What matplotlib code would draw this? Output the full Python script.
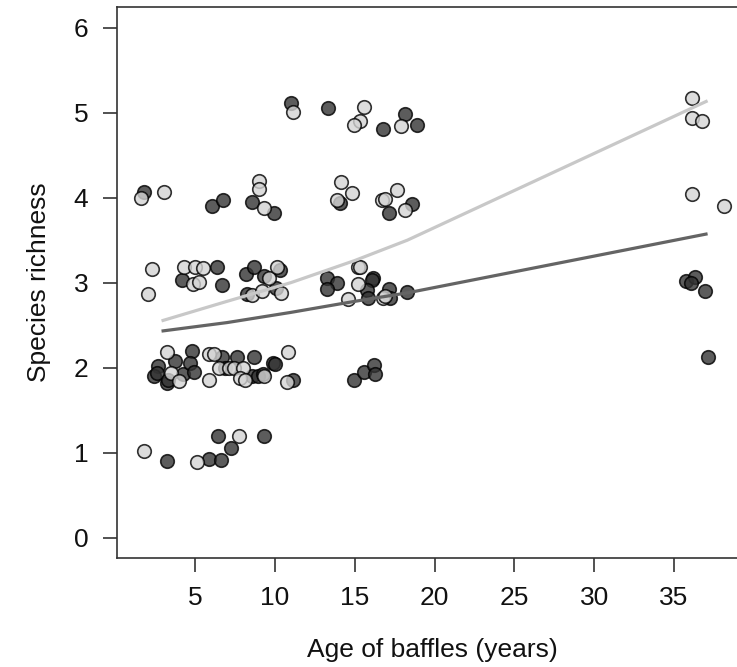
import matplotlib
matplotlib.use("Agg")
import matplotlib.pyplot as plt

plt.rcParams['font.family'] = ['Liberation Sans', 'DejaVu Sans']

# Observations: age of baffles (years) vs species richness, two groups
light_age = [1.6, 3.06, 8.98, 9.03, 9.3,
             2.28, 2.03, 4.31, 5.02, 5.48, 4.85, 5.27, 9.65, 10.11, 8.59, 9.17, 10.4,
             3.22, 3.47, 4.0, 5.89, 5.89, 6.19, 6.52, 7.14, 7.44, 7.98, 7.81, 8.13, 9.32, 10.84, 10.74,
             1.82, 5.14, 7.77,
             11.11, 15.58, 15.33, 14.97, 17.9,
             14.14, 14.81, 13.87, 16.73, 16.9, 17.63, 18.15,
             15.22, 15.33, 15.22, 14.6, 16.79, 16.9,
             36.1, 36.1, 36.76, 36.12, 38.12]
light_rich = [4.0, 4.07, 4.20, 4.10, 3.88,
              3.16, 2.87, 3.19, 3.19, 3.17, 2.98, 3.01, 3.05, 3.19, 2.85, 2.90, 2.88,
              2.18, 1.94, 1.84, 1.85, 2.16, 2.16, 1.99, 1.99, 1.99, 1.99, 1.88, 1.86, 1.90, 2.18, 1.83,
              1.02, 0.895, 1.19,
              5.01, 5.07, 4.90, 4.85, 4.84,
              4.18, 4.05, 3.97, 3.975, 3.98, 4.09, 3.85,
              3.18, 3.18, 2.98, 2.81, 2.82, 2.845,
              5.17, 4.94, 4.90, 4.04, 3.90]

dark_age = [1.78, 6.04, 6.77, 8.59, 9.94,
            4.16, 6.39, 6.69, 8.17, 8.69, 9.34, 10.32, 8.23, 10.05,
            4.83, 3.74, 2.66, 2.45, 2.6, 3.22, 3.33, 4.27, 4.68, 4.95, 6.71, 6.88, 7.63, 8.55, 8.71,
            8.96, 9.23, 9.9, 10.0, 11.11,
            3.22, 5.85, 6.6, 6.46, 7.25, 9.32,
            10.99, 13.3, 16.75, 18.15, 18.88,
            14.08, 17.17, 18.57,
            13.24, 13.87, 13.28, 16.12, 16.06, 15.79, 15.85, 17.17, 17.21, 18.29,
            14.95, 15.58, 16.2, 16.27,
            35.74, 36.3, 36.04, 36.93, 37.14]
dark_rich = [4.07, 3.90, 3.975, 3.95, 3.82,
             3.03, 3.18, 2.97, 3.10, 3.18, 3.08, 3.15, 2.87, 2.94,
             2.19, 2.08, 2.02, 1.90, 1.94, 1.82, 1.86, 1.92, 2.05, 1.95, 2.12, 1.99, 2.12, 1.90, 2.13,
             1.90, 1.92, 2.05, 2.04, 1.85,
             0.90, 0.93, 0.915, 1.19, 1.05, 1.19,
             5.11, 5.06, 4.81, 4.98, 4.85,
             3.94, 3.82, 3.92,
             3.06, 3.00, 2.92, 3.05, 3.03, 2.91, 2.82, 2.92, 2.82, 2.89,
             1.86, 1.95, 2.03, 1.93,
             3.02, 3.065, 2.99, 2.90, 2.12]

# Fitted trend for each group
fit_age = [2.9, 7.0, 11.0, 15.0, 18.3, 37.1]
fit_light = [2.55, 2.78, 3.0, 3.26, 3.5, 5.14]
fit_dark = [2.43, 2.53, 2.65, 2.78, 2.88, 3.575]

y_ticks = [0, 1, 2, 3, 4, 5, 6]
x_ticks = [5, 10, 15, 20, 25, 30, 35]

fig = plt.figure(figsize=(7.37, 6.67), dpi=100)
ax = fig.add_axes([117.3 / 737, 1 - 558 / 667, (747.5 - 117.3) / 737, (558 - 7.3) / 667])

ax.scatter(dark_age, dark_rich, s=95, facecolor=(0.2, 0.2, 0.2, 0.8),
           edgecolor=(0, 0, 0, 0.8), linewidth=1.2, zorder=3)
ax.scatter(light_age, light_rich, s=95, facecolor=(0.83, 0.83, 0.83, 0.8),
           edgecolor=(0, 0, 0, 0.8), linewidth=1.2, zorder=3)

ax.plot(fit_age, fit_light, color='#c8c8c8', linewidth=2.3, zorder=4, solid_capstyle='butt')
ax.plot(fit_age, fit_dark, color='#646464', linewidth=2.3, zorder=4, solid_capstyle='butt')

ax.set_xlim(0.13, 39.6)
ax.set_ylim(-0.24, 6.24)
ax.set_xticks(x_ticks)
ax.set_yticks(y_ticks)
ax.set_xticklabels([str(t) for t in x_ticks])
ax.set_yticklabels([str(t) for t in y_ticks])

for sp in ax.spines.values():
    sp.set_color('#333333')
    sp.set_linewidth(1.2)
ax.tick_params(axis='both', length=10, width=1.2, color='#333333', labelsize=19,
               labelcolor='#111111')
ax.tick_params(axis='x', pad=10)
ax.tick_params(axis='y', pad=11)

ax.set_xlabel('Age of baffles (years)', fontsize=19, color='#111111', labelpad=20)
ax.set_ylabel('Species richness', fontsize=19, color='#111111', labelpad=16)

fig.savefig('out.png', dpi=100)
